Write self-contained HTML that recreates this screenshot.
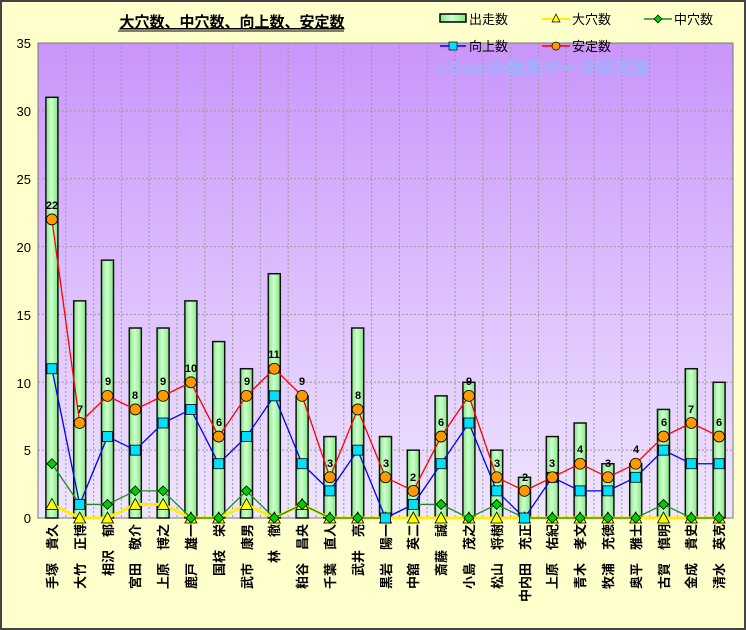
<!DOCTYPE html>
<html><head><meta charset="utf-8"><style>
body{margin:0;background:#fff}
svg{display:block;font-family:"Liberation Sans","Noto Sans CJK JP",sans-serif}
</style></head><body>
<svg id="s" width="746" height="630" xmlns="http://www.w3.org/2000/svg">
<defs>
<linearGradient id="bg" x1="0" y1="0" x2="0" y2="1"><stop offset="0" stop-color="#c995fb"/><stop offset="1" stop-color="#efe6ff"/></linearGradient>
<linearGradient id="bar" x1="0" y1="0" x2="1" y2="0"><stop offset="0" stop-color="#80e880"/><stop offset="0.45" stop-color="#d0ffd0"/><stop offset="1" stop-color="#80e880"/></linearGradient>
</defs>
<rect x="1" y="1" width="744" height="628" fill="#ffffcc" stroke="#444" stroke-width="2"/>
<rect x="38" y="43" width="695" height="475" fill="url(#bg)" stroke="#777" stroke-width="1"/>
<g id="grid" stroke="#999" stroke-dasharray="2,2" stroke-width="1"></g>
<text x="437" y="74" font-size="17" font-weight="bold" fill="#99b3ff" textLength="213" lengthAdjust="spacingAndGlyphs">©Caniの競馬データ研究室</text>
<g id="plot"></g>
<text x="232" y="27" font-size="15" font-weight="bold" text-anchor="middle" text-decoration="underline">大穴数、中穴数、向上数、安定数</text>
<line x1="118" y1="31" x2="344" y2="31" stroke="#000" stroke-width="1"/>
<g font-size="13">
<rect x="440" y="14" width="26" height="8" fill="url(#bar)" stroke="#000" stroke-width="1.5"/><text x="469" y="24">出走数</text>
<line x1="542" y1="19" x2="570" y2="19" stroke="#ffee00" stroke-width="2"/><polygon points="556,14 552,22 560,22" fill="#ffff00" stroke="#000" stroke-width="0.7"/><text x="572" y="24">大穴数</text>
<line x1="644" y1="19" x2="672" y2="19" stroke="#228822" stroke-width="1.5"/><polygon points="658,15 662,19 658,23 654,19" fill="#00cc00" stroke="#000" stroke-width="0.7"/><text x="674" y="24">中穴数</text>
<line x1="440" y1="46" x2="466" y2="46" stroke="#0000ff" stroke-width="1.5"/><rect x="449" y="42" width="8" height="8" fill="#00e0ff" stroke="#000" stroke-width="0.7"/><text x="469" y="51">向上数</text>
<line x1="542" y1="46" x2="570" y2="46" stroke="#ff0000" stroke-width="1.5"/><circle cx="556" cy="46" r="4" fill="#ff9900" stroke="#000" stroke-width="0.7"/><text x="572" y="51">安定数</text>
</g>
<g font-size="13" text-anchor="end">
<text x="31" y="48">35</text><text x="31" y="116">30</text><text x="31" y="184">25</text><text x="31" y="252">20</text><text x="31" y="320">15</text><text x="31" y="388">10</text><text x="31" y="455">5</text><text x="31" y="523">0</text>
</g>
<g font-size="11" font-weight="bold" text-anchor="middle">
<text x="52" y="209">22</text><text x="80" y="413">7</text><text x="108" y="385">9</text><text x="135" y="399">8</text><text x="163" y="385">9</text><text x="191" y="372">10</text><text x="219" y="426">6</text><text x="247" y="385">9</text><text x="274" y="358">11</text><text x="302" y="385">9</text><text x="330" y="467">3</text><text x="358" y="399">8</text><text x="386" y="467">3</text><text x="413" y="481">2</text><text x="441" y="426">6</text><text x="469" y="385">9</text><text x="497" y="467">3</text><text x="525" y="481">2</text><text x="552" y="467">3</text><text x="580" y="453">4</text><text x="608" y="467">3</text><text x="636" y="453">4</text><text x="664" y="426">6</text><text x="691" y="413">7</text><text x="719" y="426">6</text>
</g>
<g font-size="13" font-weight="bold">
<text transform="translate(57,524) rotate(-90)" text-anchor="end">手塚　貴久</text>
<text transform="translate(85,524) rotate(-90)" text-anchor="end">大竹　正博</text>
<text transform="translate(113,524) rotate(-90)" text-anchor="end">相沢　郁</text>
<text transform="translate(140,524) rotate(-90)" text-anchor="end">宮田　敬介</text>
<text transform="translate(168,524) rotate(-90)" text-anchor="end">上原　博之</text>
<text transform="translate(196,524) rotate(-90)" text-anchor="end">鹿戸　雄一</text>
<text transform="translate(224,524) rotate(-90)" text-anchor="end">国枝　栄</text>
<text transform="translate(252,524) rotate(-90)" text-anchor="end">武市　康男</text>
<text transform="translate(279,524) rotate(-90)" text-anchor="end">林　徹</text>
<text transform="translate(307,524) rotate(-90)" text-anchor="end">粕谷　昌央</text>
<text transform="translate(335,524) rotate(-90)" text-anchor="end">千葉　直人</text>
<text transform="translate(363,524) rotate(-90)" text-anchor="end">武井　亮</text>
<text transform="translate(391,524) rotate(-90)" text-anchor="end">黒岩　陽一</text>
<text transform="translate(418,524) rotate(-90)" text-anchor="end">中舘　英二</text>
<text transform="translate(446,524) rotate(-90)" text-anchor="end">斎藤　誠</text>
<text transform="translate(474,524) rotate(-90)" text-anchor="end">小島　茂之</text>
<text transform="translate(502,524) rotate(-90)" text-anchor="end">松山　将樹</text>
<text transform="translate(530,524) rotate(-90)" text-anchor="end">中内田　充正</text>
<text transform="translate(557,524) rotate(-90)" text-anchor="end">上原　佑紀</text>
<text transform="translate(585,524) rotate(-90)" text-anchor="end">青木　孝文</text>
<text transform="translate(613,524) rotate(-90)" text-anchor="end">牧浦　充徳</text>
<text transform="translate(641,524) rotate(-90)" text-anchor="end">奥平　雅士</text>
<text transform="translate(669,524) rotate(-90)" text-anchor="end">古賀　慎明</text>
<text transform="translate(696,524) rotate(-90)" text-anchor="end">金成　貴史</text>
<text transform="translate(724,524) rotate(-90)" text-anchor="end">清水　英克</text>
</g>
<script>
var NS="http://www.w3.org/2000/svg";
function el(p,t,a){var e=document.createElementNS(NS,t);for(var k in a)e.setAttribute(k,a[k]);p.appendChild(e);return e;}
var g=document.getElementById('grid'),p=document.getElementById('plot');
var W=27.8,X0=38;
function cx(i){return X0+W/2+W*i;}
function y(v){return 518-13.571*v;}
for(var i=1;i<25;i++){var x=X0+W*i;el(g,'line',{x1:x,y1:43,x2:x,y2:518});}
for(var v=5;v<35;v+=5){el(g,'line',{x1:38,y1:y(v),x2:733,y2:y(v)});}
var runs=[31,16,19,14,14,16,13,11,18,9,6,14,6,5,9,10,5,3,6,7,4,4,8,11,10];
var oa=[1,0,0,1,1,0,0,1,0,1,0,0,0,0,0,0,0,0,0,0,0,0,0,0,0];
var ch=[4,1,1,2,2,0,0,2,0,1,0,0,0,1,1,0,1,0,0,0,0,0,1,0,0];
var up=[11,1,6,5,7,8,4,6,9,4,2,5,0,1,4,7,2,0,3,2,2,3,5,4,4];
var st=[22,7,9,8,9,10,6,9,11,9,3,8,3,2,6,9,3,2,3,4,3,4,6,7,6];
for(var i=0;i<25;i++){el(p,'rect',{x:cx(i)-6,y:y(runs[i]),width:12,height:518-y(runs[i]),fill:'url(#bar)',stroke:'#111','stroke-width':1.5});}
function line(d,c,w){var s='';for(var i=0;i<25;i++)s+=cx(i)+','+y(d[i])+' ';el(p,'polyline',{points:s,fill:'none',stroke:c,'stroke-width':w});}
line(oa,'#ffee00',3);line(ch,'#228822',1.3);line(up,'#0000ff',1.3);line(st,'#ff0000',1.3);
for(var i=0;i<25;i++){var x=cx(i);
var yy=y(oa[i]);el(p,'polygon',{points:x+','+(yy-6)+' '+(x-6)+','+(yy+5)+' '+(x+6)+','+(yy+5),fill:'#ffff00',stroke:'#000','stroke-width':0.8});
yy=y(ch[i]);el(p,'polygon',{points:x+','+(yy-5)+' '+(x+5)+','+yy+' '+x+','+(yy+5)+' '+(x-5)+','+yy,fill:'#00cc00',stroke:'#000','stroke-width':0.8});
yy=y(up[i]);el(p,'rect',{x:x-5,y:yy-5,width:10,height:10,fill:'#00e0ff',stroke:'#000','stroke-width':0.8});
yy=y(st[i]);el(p,'circle',{cx:x,cy:yy,r:5.5,fill:'#ff9900',stroke:'#000','stroke-width':0.8});}
</script>
</svg>
</body></html>
